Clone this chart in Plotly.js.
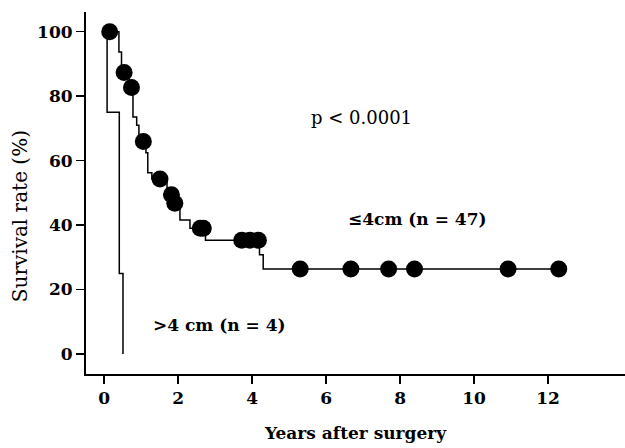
<!DOCTYPE html>
<html>
<head>
<meta charset="utf-8">
<script src="https://cdn.plot.ly/plotly-3.0.1.min.js"></script>
<style>
html,body{margin:0;padding:0;background:#fff;}
#chart{width:625px;height:448px;}
</style>
</head>
<body>
<div id="chart"></div>
<script>
// ≤4cm group (n = 47): Kaplan-Meier step points
const smallTumorTimes = [0, 0.40, 0.47, 0.68, 0.78, 0.88, 0.94, 1.13, 1.18, 1.29, 1.70, 1.86, 2.05, 2.32, 2.74, 4.20, 4.30, 12.29];
const smallTumorSurv  = [100, 93.7, 87.3, 82.7, 73.5, 71.0, 65.9, 62.4, 56.2, 54.3, 49.4, 46.8, 41.6, 39.0, 35.3, 30.8, 26.4, 26.4];
// censored marks on the ≤4cm curve
const censorTimes = [0.15, 0.54, 0.74, 1.06, 1.51, 1.82, 1.91, 2.60, 2.68, 3.72, 3.94, 4.17, 5.30, 6.67, 7.69, 8.39, 10.92, 12.29];
const censorSurv  = [100, 87.3, 82.7, 65.9, 54.3, 49.4, 46.8, 39.0, 39.0, 35.3, 35.3, 35.3, 26.4, 26.4, 26.4, 26.4, 26.4, 26.4];
// >4 cm group (n = 4)
const largeTumorTimes = [0, 0.08, 0.41, 0.51];
const largeTumorSurv  = [100, 75, 25, 0];

const xTicks = [0, 2, 4, 6, 8, 10, 12];
const yTicks = [0, 20, 40, 60, 80, 100];

const serif = "DejaVu Serif";

const traces = [
  {x: largeTumorTimes, y: largeTumorSurv, mode: 'lines', line: {shape: 'hv', color: '#000', width: 1.5}, hoverinfo: 'skip'},
  {x: smallTumorTimes, y: smallTumorSurv, mode: 'lines', line: {shape: 'hv', color: '#000', width: 1.5}, hoverinfo: 'skip'},
  {x: censorTimes, y: censorSurv, mode: 'markers', marker: {size: 17, color: '#000'}, hoverinfo: 'skip'}
];

const layout = {
  width: 625, height: 448,
  margin: {l: 86, r: 0, t: 12, b: 74},
  paper_bgcolor: '#fff', plot_bgcolor: '#fff',
  showlegend: false,
  xaxis: {
    range: [-0.49, 14.08], tickvals: xTicks, ticktext: xTicks.map(String),
    showline: true, linewidth: 2, linecolor: '#000', showgrid: false, zeroline: false,
    ticks: 'outside', ticklen: 8, tickwidth: 1.5, tickcolor: '#000',
    tickfont: {family: serif, size: 17, color: '#000', weight: 'bold'},
    title: {text: 'Years after surgery', font: {family: serif, size: 17, color: '#000', weight: 'bold'}, standoff: 20}
  },
  yaxis: {
    range: [-6.2, 106.1], tickvals: yTicks, ticktext: yTicks.map(String),
    showline: true, linewidth: 2, linecolor: '#000', showgrid: false, zeroline: false,
    ticks: 'outside', ticklen: 8, tickwidth: 1.5, tickcolor: '#000',
    tickfont: {family: serif, size: 17, color: '#000', weight: 'bold'}
  },
  annotations: [
    {x: -0.1224, y: 0.436, xref: 'paper', yref: 'paper', text: 'Survival rate (%)', textangle: -90, showarrow: false, xanchor: 'center', yanchor: 'middle', font: {family: serif, size: 20, color: '#000'}},
    {x: 6.95, y: 73.5, xref: 'x', yref: 'y', text: 'p < 0.0001', showarrow: false, font: {family: serif, size: 18, color: '#000'}},
    {x: 8.46, y: 41.9, xref: 'x', yref: 'y', text: '≤4cm (n = 47)', showarrow: false, font: {family: serif, size: 17, color: '#000', weight: 'bold'}},
    {x: 3.13, y: 9.0, xref: 'x', yref: 'y', text: '>4 cm (n = 4)', showarrow: false, font: {family: serif, size: 17, color: '#000', weight: 'bold'}}
  ]
};

Plotly.newPlot('chart', traces, layout, {displayModeBar: false, staticPlot: true});
</script>
</body>
</html>
